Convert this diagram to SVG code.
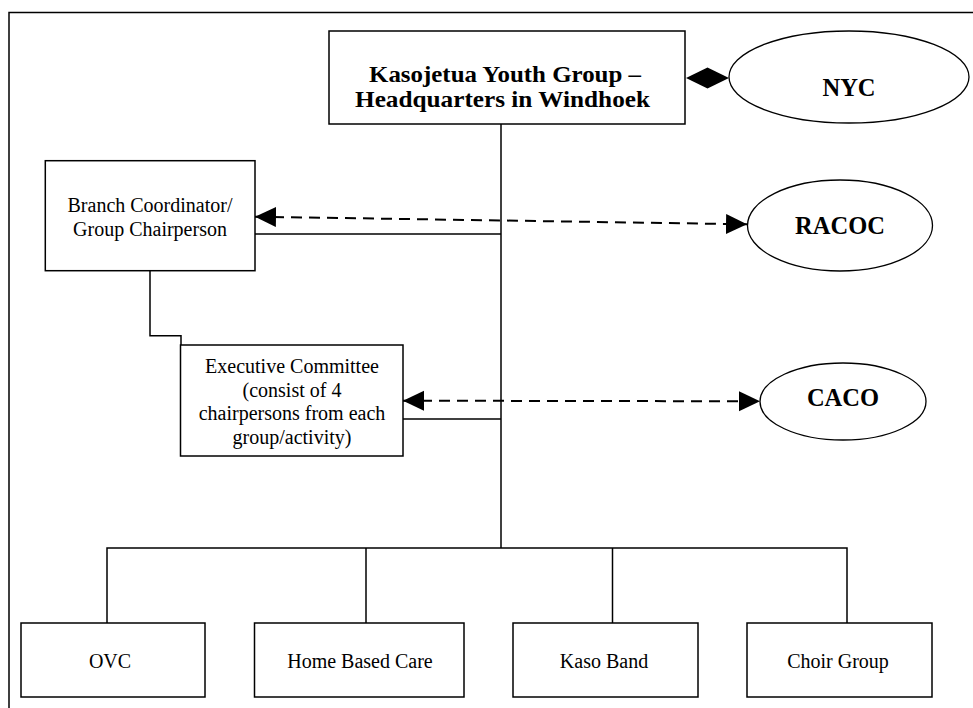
<svg xmlns="http://www.w3.org/2000/svg" width="973" height="708" viewBox="0 0 973 708">
<defs>
<style>
.box{fill:#fff;stroke:#000;stroke-width:1.5}
.ell{fill:#fff;stroke:#000;stroke-width:1.3}
.ln{fill:none;stroke:#000;stroke-width:1.5}
.dash{fill:none;stroke:#000;stroke-width:2;stroke-dasharray:11 7}
.t{font-family:"Liberation Serif","Times New Roman",serif;font-size:20px;fill:#000;text-anchor:middle}
.b{font-family:"Liberation Serif","Times New Roman",serif;font-size:24.5px;font-weight:bold;fill:#000;text-anchor:middle}
.h{font-family:"Liberation Serif","Times New Roman",serif;font-size:22.5px;font-weight:bold;fill:#000;text-anchor:middle}
</style>
<marker id="ah" markerUnits="userSpaceOnUse" markerWidth="22" markerHeight="21" refX="21" refY="10" orient="auto-start-reverse" viewBox="0 0 22 21">
<path d="M0,0 L21,10 L0,20 z" fill="#000"/>
</marker>
</defs>
<rect width="973" height="708" fill="#fff"/>
<path class="ln" d="M9,708 V12.5 H973" stroke-width="2"/>
<g id="connectors">
<path class="ln" d="M501,124 V548"/>
<path class="ln" d="M107,623 V548 H847 V623"/>
<path class="ln" d="M366,548 V623"/>
<path class="ln" d="M612.5,548 V623"/>
<path class="ln" d="M255,234 H501"/>
<path class="ln" d="M403,419 H501"/>
<path class="ln" d="M150,271 V335.7 H181 V345"/>
<path class="dash" d="M255,216.7 L747,224.3" marker-start="url(#ah)" marker-end="url(#ah)"/>
<path class="dash" d="M403,400.7 L760,401.3" marker-start="url(#ah)" marker-end="url(#ah)"/>
<polygon points="686,78 707.5,67.5 729,78 707.5,88.5" fill="#000"/>
</g>
<g id="hq">
<rect class="box" x="329" y="31" width="356" height="93"/>
<text class="h" x="505" y="82" textLength="272" lengthAdjust="spacingAndGlyphs">Kasojetua Youth Group –</text>
<text class="h" x="502.5" y="107" textLength="295" lengthAdjust="spacingAndGlyphs">Headquarters in Windhoek</text>
</g>
<g id="nyc">
<ellipse class="ell" cx="849" cy="77" rx="120" ry="46"/>
<text class="b" x="849" y="95.5">NYC</text>
</g>
<g id="branch">
<rect class="box" x="45.3" y="160.7" width="209.7" height="110"/>
<text class="t" x="150" y="212.3">Branch Coordinator/</text>
<text class="t" x="150" y="235.7">Group Chairperson</text>
</g>
<g id="racoc">
<ellipse class="ell" cx="840" cy="225.5" rx="92.5" ry="45.5"/>
<text class="b" x="840" y="234.3">RACOC</text>
</g>
<g id="exec">
<rect class="box" x="180.5" y="345" width="222.5" height="111"/>
<text class="t" x="292" y="373.3">Executive Committee</text>
<text class="t" x="292" y="396.7">(consist of 4</text>
<text class="t" x="292" y="420">chairpersons from each</text>
<text class="t" x="292" y="444">group/activity)</text>
</g>
<g id="caco">
<ellipse class="ell" cx="843" cy="401.5" rx="83" ry="38.5"/>
<text class="b" x="843" y="406">CACO</text>
</g>
<g id="ovc">
<rect class="box" x="21" y="623" width="184" height="74"/>
<text class="t" x="110" y="667.7">OVC</text>
</g>
<g id="hbc">
<rect class="box" x="254.5" y="623" width="209.5" height="74"/>
<text class="t" x="360" y="667.7">Home Based Care</text>
</g>
<g id="kaso">
<rect class="box" x="513" y="623" width="185" height="74"/>
<text class="t" x="604" y="667.7">Kaso Band</text>
</g>
<g id="choir">
<rect class="box" x="747" y="623" width="185" height="74"/>
<text class="t" x="838" y="667.7">Choir Group</text>
</g>
</svg>
